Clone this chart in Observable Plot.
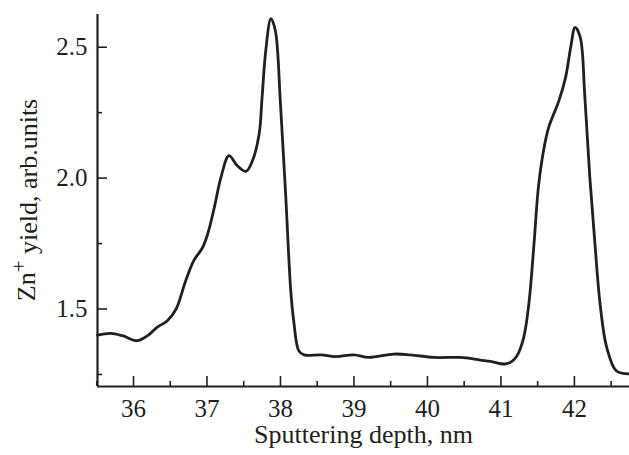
<!DOCTYPE html>
<html>
<head>
<meta charset="utf-8">
<script src="https://cdn.jsdelivr.net/npm/d3@7"></script>
<script src="https://cdn.jsdelivr.net/npm/@observablehq/plot@0.6"></script>
<style>
  html, body { margin: 0; padding: 0; background: #fff; }
  #chart svg { display: block; }
</style>
</head>
<body>
<div id="chart"></div>
<script>
// Sputtering depth (nm)
const depth = [35.51, 35.69, 35.85, 36.05, 36.2, 36.32, 36.46, 36.58, 36.71, 36.82, 36.94, 37.01, 37.10, 37.19, 37.30, 37.41, 37.53, 37.62, 37.71, 37.75, 37.80, 37.87, 37.93, 38.00, 38.07, 38.14, 38.18, 38.25, 38.32, 38.55, 38.75, 39.0, 39.2, 39.54, 39.77, 40.09, 40.45, 40.72, 40.86, 41.06, 41.15, 41.22, 41.31, 41.38, 41.45, 41.51, 41.58, 41.65, 41.79, 41.88, 41.95, 42.01, 42.08, 42.14, 42.21, 42.28, 42.35, 42.44, 42.57, 42.74];
// Zn+ yield (arb. units)
const yieldVals = [1.400, 1.407, 1.398, 1.379, 1.400, 1.430, 1.455, 1.500, 1.608, 1.685, 1.735, 1.787, 1.888, 2.003, 2.086, 2.048, 2.026, 2.067, 2.169, 2.309, 2.487, 2.609, 2.564, 2.284, 1.940, 1.570, 1.455, 1.340, 1.325, 1.325, 1.318, 1.325, 1.315, 1.328, 1.325, 1.315, 1.315, 1.305, 1.300, 1.290, 1.300, 1.322, 1.391, 1.519, 1.748, 1.965, 2.105, 2.194, 2.296, 2.385, 2.500, 2.576, 2.538, 2.322, 2.003, 1.748, 1.519, 1.353, 1.264, 1.252];

const xMajorTicks = [36, 37, 38, 39, 40, 41, 42];
const xMinorTicks = [35.5, 36.5, 37.5, 38.5, 39.5, 40.5, 41.5, 42.5];
const yMajorTicks = [1.5, 2.0, 2.5];
const yMinorTicks = [1.25, 1.75, 2.25];
const xDomain = [35.51, 42.75];
const yDomain = [1.204, 2.625];
const xLabel = "Sputtering depth, nm";
const yLabelParts = ["Zn", "+", " yield, arb.units"];

const data = depth.map((d, i) => ({depth: d, value: yieldVals[i]}));
const ink = "#231f20";
const font = "'Liberation Serif', 'Times New Roman', serif";

const chart = Plot.plot({
  width: 629,
  height: 455,
  marginTop: 14,
  marginBottom: 69,
  marginLeft: 97,
  marginRight: 0,
  style: {fontFamily: font, background: "#fff", color: ink, overflow: "visible"},
  x: {domain: xDomain},
  y: {domain: yDomain},
  marks: [
    // tick labels
    Plot.axisX({ticks: xMajorTicks, tickSize: 0, tickPadding: 13, fontSize: 25, tickFormat: d3.format("d"), label: null, fill: ink}),
    Plot.axisY({ticks: yMajorTicks, tickSize: 0, tickPadding: 10, fontSize: 25, tickFormat: d3.format(".1f"), label: null, fill: ink}),
    // inward ticks
    Plot.axisX({ticks: xMajorTicks, tickSize: -10, tickFormat: () => "", label: null, stroke: ink, strokeWidth: 1.6}),
    Plot.axisX({ticks: xMinorTicks, tickSize: -5, tickFormat: () => "", label: null, stroke: ink, strokeWidth: 1.6}),
    Plot.axisY({ticks: yMajorTicks, tickSize: -10, tickFormat: () => "", label: null, stroke: ink, strokeWidth: 1.6}),
    Plot.axisY({ticks: yMinorTicks, tickSize: -5, tickFormat: () => "", label: null, stroke: ink, strokeWidth: 1.6}),
    // axis lines
    Plot.ruleY([yDomain[0]], {stroke: ink, strokeWidth: 2.2}),
    Plot.ruleX([xDomain[0]], {stroke: ink, strokeWidth: 2.2}),
    // curve
    Plot.line(data, {x: "depth", y: "value", curve: "catmull-rom", stroke: ink, strokeWidth: 2.8}),
    // x title
    Plot.text([xLabel], {frameAnchor: "bottom", dy: 48, text: d => d, fontSize: 26, fill: ink, lineAnchor: "middle"})
  ]
});

// y label with superscript
const svg = d3.select(chart);
const t = svg.append("text")
  .attr("transform", "translate(35,200) rotate(-90)")
  .attr("text-anchor", "middle")
  .attr("font-family", font)
  .attr("font-size", 26)
  .attr("fill", ink);
t.append("tspan").text(yLabelParts[0]);
t.append("tspan").attr("dy", "-0.42em").attr("font-size", 21).text(yLabelParts[1]);
t.append("tspan").attr("dy", "0.42em").text(yLabelParts[2]);

document.getElementById("chart").appendChild(chart);
</script>
</body>
</html>
